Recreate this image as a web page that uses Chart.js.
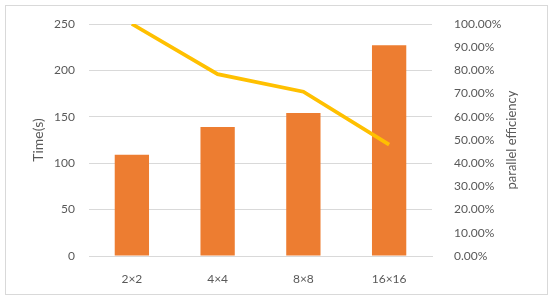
<!DOCTYPE html>
<html>
<head>
<meta charset="utf-8">
<script src="https://cdn.jsdelivr.net/npm/chart.js@4"></script>
<style>
  body { margin: 0; background: #fff; }
  #wrap { position: relative; width: 550px; height: 301px; }
  #frame { position: absolute; left: 5px; top: 5px; width: 541px; height: 288px; border: 1px solid #d9d9d9; }
</style>
</head>
<body>
<div id="wrap">
  <div id="frame"></div>
  <canvas id="myChart" width="550" height="301"></canvas>
</div>
<script>
var categories = ['2×2', '4×4', '8×8', '16×16'];
var times = [109, 139, 154, 227];
var efficiency = [1.00, 0.784, 0.708, 0.48];

var timeTicks = [0, 50, 100, 150, 200, 250];

Chart.defaults.font.family = 'Lato, "Open Sans", sans-serif';
Chart.defaults.color = '#595959';

// right axis title reads bottom-to-top like the left one
var rightTitle = {
    id: 'rightTitle',
    afterDraw: function (chart) {
        var c = chart.ctx, a = chart.chartArea;
        c.save();
        c.translate(512, (a.top + a.bottom) / 2);
        c.rotate(-Math.PI / 2);
        c.font = '13px Lato, "Open Sans", sans-serif';
        c.fillStyle = '#595959';
        c.textAlign = 'center';
        c.textBaseline = 'middle';
        c.fillText('parallel efficiency', 0, 0);
        c.restore();
    }
};

var ctx = document.getElementById('myChart');
var myChart = new Chart(ctx, {
    data: {
        labels: categories,
        datasets: [{
            type: 'line',
            label: 'parallel efficiency',
            data: efficiency,
            yAxisID: 'y1',
            borderColor: '#FFC000',
            borderWidth: 3.75,
            pointRadius: 0,
            tension: 0,
            order: 0
        }, {
            type: 'bar',
            label: 'Time(s)',
            data: times,
            yAxisID: 'y',
            backgroundColor: '#ED7D31',
            categoryPercentage: 1,
            barPercentage: 0.4,
            order: 1
        }]
    },
    plugins: [rightTitle],
    options: {
        responsive: false,
        animation: false,
        layout: { padding: { top: 24, left: 0, right: 0, bottom: 0 } },
        plugins: { legend: { display: false }, tooltip: { enabled: false } },
        scales: {
            x: {
                grid: { display: false },
                border: { color: '#d9d9d9' },
                ticks: { font: { size: 12 }, padding: 8 },
                afterFit: function (s) { s.height = 45; }
            },
            y: {
                position: 'left',
                min: 0, max: 250,
                afterBuildTicks: function (s) { s.ticks = timeTicks.map(function (v) { return { value: v }; }); },
                grid: { color: '#d9d9d9', drawTicks: false },
                border: { display: false },
                ticks: { font: { size: 12 }, padding: 14 },
                title: { display: true, text: 'Time(s)', font: { size: 14 }, padding: { top: 30, bottom: 0 } },
                afterFit: function (s) { s.width = 89; }
            },
            y1: {
                position: 'right',
                min: 0, max: 1,
                grid: { display: false },
                border: { display: false },
                ticks: {
                    stepSize: 0.1,
                    font: { size: 12 },
                    padding: 14,
                    callback: function (v) { return (v * 100).toFixed(2) + '%'; }
                },
                afterFit: function (s) { s.width = 118; }
            }
        }
    }
});
</script>
</body>
</html>
